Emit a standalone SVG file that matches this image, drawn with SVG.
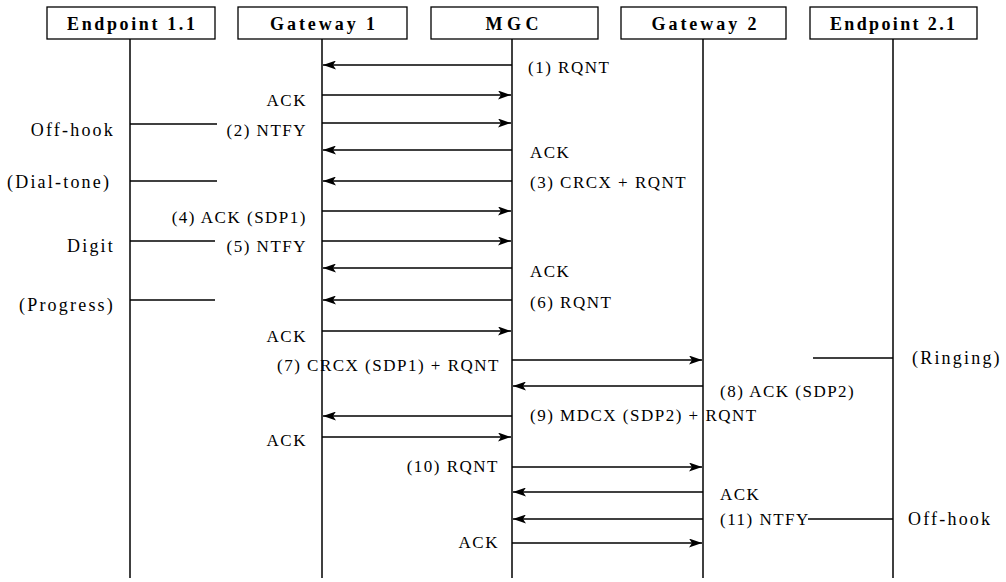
<svg xmlns="http://www.w3.org/2000/svg" width="1006" height="582" viewBox="0 0 1006 582">
<style>
.box{fill:#fff;stroke:#000;stroke-width:1.3}
.hdr{font-family:"Liberation Serif",serif;font-weight:bold;font-size:18px;text-anchor:middle}
.life{stroke:#000;stroke-width:1.5;fill:none}
.msg{stroke:#000;stroke-width:1.5;fill:none}
.arr{stroke:#000;stroke-width:1.5;fill:none;marker-end:url(#ah)}
.lbl{font-family:"Liberation Serif",serif;font-size:17px;letter-spacing:1.5px;fill:#000}
.ep{font-family:"Liberation Serif",serif;font-size:18px;letter-spacing:2.2px;fill:#000}
.e{text-anchor:end}
</style>
<defs>
<marker id="ah" viewBox="0 0 13 9" refX="13" refY="4.5" markerWidth="13" markerHeight="9" markerUnits="userSpaceOnUse" orient="auto">
<path d="M0,0 L13,4.5 L0,9 L3,4.5 Z" fill="#000"/>
</marker>
</defs>
<rect width="1006" height="582" fill="#fff"/>
<g id="endpoint11">
<rect class="box" x="47" y="7" width="168" height="32"/>
<text class="hdr" x="131" y="30" textLength="128" lengthAdjust="spacing">Endpoint 1.1</text>
<line class="life" x1="130" y1="39" x2="130" y2="578"/>
</g>
<g id="gateway1">
<rect class="box" x="238" y="7" width="169" height="32"/>
<text class="hdr" x="322.5" y="30" textLength="105" lengthAdjust="spacing">Gateway 1</text>
<line class="life" x1="322" y1="39" x2="322" y2="578"/>
</g>
<g id="mgc">
<rect class="box" x="431" y="7" width="167" height="32"/>
<text class="hdr" x="512" y="30" textLength="53" lengthAdjust="spacing">MGC</text>
<line class="life" x1="512" y1="39" x2="512" y2="578"/>
</g>
<g id="gateway2">
<rect class="box" x="621" y="7" width="165" height="32"/>
<text class="hdr" x="704" y="30" textLength="105" lengthAdjust="spacing">Gateway 2</text>
<line class="life" x1="703" y1="39" x2="703" y2="578"/>
</g>
<g id="endpoint21">
<rect class="box" x="810" y="7" width="167" height="32"/>
<text class="hdr" x="892.5" y="30" textLength="125" lengthAdjust="spacing">Endpoint 2.1</text>
<line class="life" x1="893" y1="39" x2="893" y2="578"/>
</g>
<g id="connectors">
<line class="arr" x1="512" y1="65" x2="323" y2="65"/>
<line class="arr" x1="322" y1="95" x2="511" y2="95"/>
<line class="msg" x1="130" y1="124" x2="217" y2="124"/>
<line class="arr" x1="322" y1="123" x2="511" y2="123"/>
<line class="arr" x1="512" y1="150" x2="323" y2="150"/>
<line class="msg" x1="130" y1="181" x2="217" y2="181"/>
<line class="arr" x1="512" y1="181" x2="323" y2="181"/>
<line class="arr" x1="322" y1="211" x2="511" y2="211"/>
<line class="msg" x1="130" y1="241" x2="215" y2="241"/>
<line class="arr" x1="322" y1="241" x2="511" y2="241"/>
<line class="arr" x1="512" y1="268" x2="323" y2="268"/>
<line class="msg" x1="130" y1="300" x2="215" y2="300"/>
<line class="arr" x1="512" y1="300" x2="323" y2="300"/>
<line class="arr" x1="322" y1="331" x2="511" y2="331"/>
<line class="arr" x1="512" y1="360" x2="702" y2="360"/>
<line class="msg" x1="813" y1="358" x2="893" y2="358"/>
<line class="arr" x1="703" y1="386" x2="513" y2="386"/>
<line class="arr" x1="512" y1="416" x2="323" y2="416"/>
<line class="arr" x1="322" y1="437" x2="511" y2="437"/>
<line class="arr" x1="512" y1="467" x2="702" y2="467"/>
<line class="arr" x1="703" y1="492" x2="513" y2="492"/>
<line class="arr" x1="703" y1="519" x2="513" y2="519"/>
<line class="msg" x1="808" y1="519" x2="893" y2="519"/>
<line class="arr" x1="512" y1="543" x2="702" y2="543"/>
</g>
<g id="labels">
<text class="lbl" x="528" y="73">(1) RQNT</text>
<text class="lbl e" x="307" y="106">ACK</text>
<text class="ep e" x="115" y="136">Off-hook</text>
<text class="lbl e" x="307" y="136">(2) NTFY</text>
<text class="lbl" x="530" y="158">ACK</text>
<text class="ep" x="7" y="188">(Dial-tone)</text>
<text class="lbl" x="530" y="188">(3) CRCX + RQNT</text>
<text class="lbl e" x="307" y="223">(4) ACK (SDP1)</text>
<text class="ep e" x="115" y="252">Digit</text>
<text class="lbl e" x="307" y="252">(5) NTFY</text>
<text class="lbl" x="530" y="277">ACK</text>
<text class="ep e" x="115" y="311">(Progress)</text>
<text class="lbl" x="530" y="308">(6) RQNT</text>
<text class="lbl e" x="307" y="342">ACK</text>
<text class="lbl" x="277" y="371">(7) CRCX (SDP1) + RQNT</text>
<text class="ep" x="912" y="364">(Ringing)</text>
<text class="lbl" x="720" y="397">(8) ACK (SDP2)</text>
<text class="lbl" x="530" y="421">(9) MDCX (SDP2) + RQNT</text>
<text class="lbl e" x="307" y="446">ACK</text>
<text class="lbl e" x="499" y="472">(10) RQNT</text>
<text class="lbl" x="720" y="500">ACK</text>
<text class="lbl" x="720" y="525">(11) NTFY</text>
<text class="ep" x="908" y="525">Off-hook</text>
<text class="lbl e" x="499" y="548">ACK</text>
</g>
</svg>
